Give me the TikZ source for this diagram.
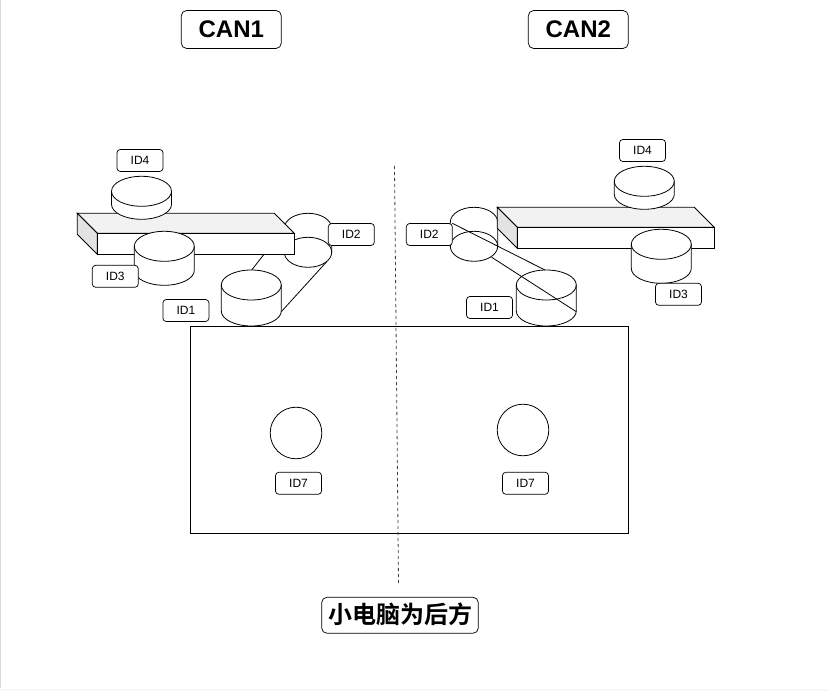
\documentclass[tikz,border=0pt]{standalone}
\usepackage{fontspec}
\setmainfont{Liberation Sans}
\newfontfamily\cjkbold[BoldFont={Noto Sans CJK SC Bold}]{Noto Sans CJK SC}
\definecolor{topface}{HTML}{F2F2F2}
\definecolor{sideface}{HTML}{E3E3E3}
\tikzset{
  idbox/.style={draw,fill=white,rounded corners=2.5pt,line width=0.55pt,minimum width=34.5pt,minimum height=16.5pt,inner sep=0pt,font=\fontsize{9pt}{10pt}\selectfont},
  titlebox/.style={draw,fill=white,rounded corners=4pt,line width=0.55pt,minimum width=75pt,minimum height=28.5pt,inner sep=0pt,font=\fontsize{18pt}{20pt}\selectfont\bfseries},
  belt/.style={line width=0.6pt},
  shell/.style={draw,line width=0.6pt,fill=white},
}
% drum: centre x, top of lid, half width, height of the side
\newcommand{\drum}[4]{
\filldraw[shell] (#1-#3,#2+15) -- ++(0,#4) arc[start angle=180,end angle=0,x radius=#3,y radius=15] -- ++(0,-#4) arc[start angle=0,end angle=-180,x radius=#3,y radius=15] -- cycle;
\draw[line width=0.6pt] (#1-#3,#2+15) arc[start angle=180,end angle=0,x radius=#3,y radius=15];
}
% slab: back left corner x and y
\newcommand{\slab}[2]{
\filldraw[shell,fill=topface] (#1,#2)--++(197,0)--++(20,20)--++(-197,0)--cycle;
\filldraw[shell,fill=sideface] (#1,#2)--++(20,20)--++(0,21)--++(-20,-20)--cycle;
\filldraw[shell] (#1+20,#2+20) rectangle ++(197,21);
}
\begin{document}
\begin{tikzpicture}[x=0.75pt,y=-0.75pt]
\useasboundingbox (0,0) rectangle (828,691);
\fill[white] (0,0) rectangle (828,691);
\draw[black!15,line width=0.75pt] (0.5,0)--(0.5,688);
\fill[black!3] (0,688.5) rectangle (828,691);

% car body
\draw[line width=0.6pt] (190.5,326) rectangle (628.5,533);
\coordinate (midtop) at (394.5,166);
\coordinate (midbot) at (398.5,583);
\draw[black!75,line width=0.6pt,dash pattern=on 2.3pt off 2.2pt] (midtop)--(midbot);
\draw[line width=0.6pt] (296,433) circle[radius=25.8];
\draw[line width=0.6pt] (523,430) circle[radius=25.8];
\node[idbox] (idsevenl) at (298.5,483.3) {ID7};
\node[idbox] (idsevenr) at (525.5,483.3) {ID7};

% CAN1 side
\coordinate (lbeltA) at (264,254.3);
\coordinate (lbeltB) at (251.7,270);
\coordinate (lbeltC) at (326.7,261.7);
\coordinate (lbeltD) at (281.3,311.7);
\draw[line width=0.6pt] (284.3,252.3)--(284.3,228.3) arc[start angle=180,end angle=360,x radius=23.7,y radius=15]--(331.7,252.3);
\draw[line width=0.6pt] (308,252.3) ellipse[x radius=23.7,y radius=15];
\draw[belt] (lbeltA)--(lbeltB);
\draw[belt] (lbeltC)--(lbeltD);
\slab{77.3}{213.3}
\drum{141.5}{176.3}{30}{13}
\drum{164.3}{231.3}{30}{24}
\drum{251.3}{270}{30}{26}
\node[idbox] (idfourl) at (140,160.5) {ID4};
\node[idbox] (idthreel) at (115.3,276.3) {ID3};
\node[idbox] (idonel) at (185.9,310.5) {ID1};
\node[idbox] (idtwol) at (351.3,234.5) {ID2};

% CAN2 side
\coordinate (rbeltA) at (452.3,223.3);
\coordinate (rbeltB) at (545,270);
\coordinate (rbeltC) at (491.7,257.3);
\coordinate (rbeltD) at (576.3,311.7);
\draw[line width=0.6pt] (450.3,246.3)--(450.3,222.3) arc[start angle=180,end angle=360,x radius=23.7,y radius=15]--(497.7,246.3);
\draw[line width=0.6pt] (474,246.3) ellipse[x radius=23.7,y radius=15];
\slab{497.3}{207.3}
\drum{644.3}{166.3}{30}{13}
\drum{661.3}{229.3}{30}{24}
\drum{546.3}{270}{30}{26}
\draw[belt] (rbeltA)--(rbeltB);
\draw[belt] (rbeltC)--(rbeltD);
\node[idbox] (idfourr) at (642.5,150.5) {ID4};
\node[idbox] (idthreer) at (678.5,294.3) {ID3};
\node[idbox] (idoner) at (489.5,307.5) {ID1};
\node[idbox] (idtwor) at (429.3,234.5) {ID2};

% titles
\node[titlebox] (canone) at (231.3,29.5) {CAN1};
\node[titlebox] (cantwo) at (578.3,29.5) {CAN2};
\node[titlebox,minimum width=117.5pt,minimum height=27pt,font=\cjkbold\fontsize{18pt}{20pt}\selectfont\bfseries] (rear) at (400,615.3) {\raisebox{3pt}{小电脑为后方}};
\end{tikzpicture}
\end{document}
